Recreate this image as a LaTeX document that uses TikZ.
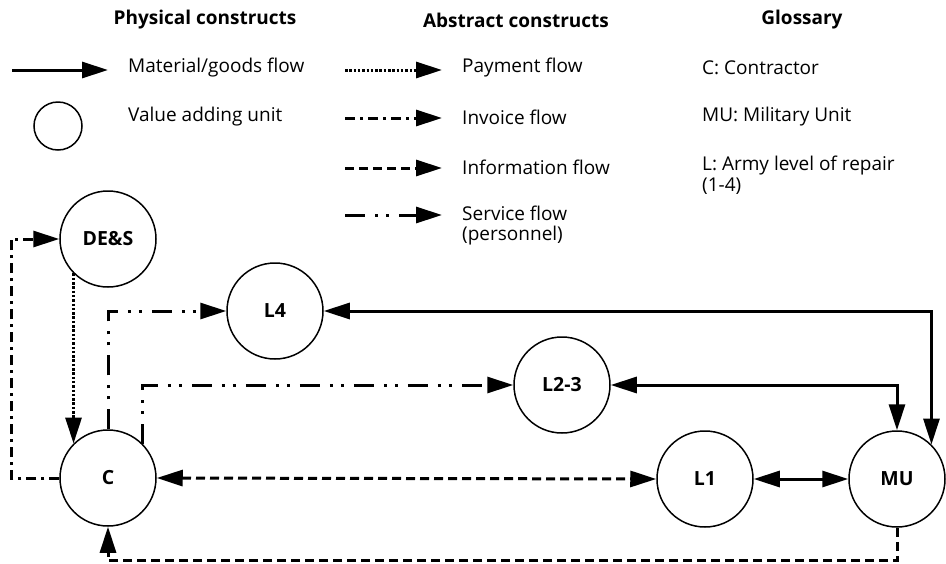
\documentclass[tikz,border=0pt]{standalone}
\usepackage{fontspec}
\setmainfont{Open Sans}
\usetikzlibrary{arrows.meta}
\begin{document}
\begin{tikzpicture}[x=1pt,y=-1pt,
  >={Triangle[length=26pt,width=16pt]},
  unit/.style={circle,draw,line width=1.5pt,minimum size=96pt,inner sep=0pt,font=\fontsize{19.5}{23}\selectfont\bfseries},
  legcirc/.style={circle,draw,line width=1.5pt,minimum size=48pt,inner sep=0pt},
  hdr/.style={font=\fontsize{19}{23}\selectfont\bfseries},
  txt/.style={anchor=west,font=\fontsize{19}{20.5}\selectfont,inner sep=0pt,align=left},
  material/.style={line width=3pt},
  payment/.style={line width=3pt,dash pattern=on 2.5pt off 1.8pt},
  invoice/.style={line width=3pt,dash pattern=on 10pt off 5pt on 3pt off 5pt},
  info/.style={line width=3pt,dash pattern=on 9pt off 5pt},
  service/.style={line width=3pt,dash pattern=on 20pt off 10pt on 3pt off 8pt on 3pt off 10pt},
]
\useasboundingbox (0,0) rectangle (946,563);

% headers
\node[hdr] (h1) at (205,20) {Physical constructs};
\node[hdr] (h2) at (516,20) {Abstract constructs};
\node[hdr] (h3) at (802,20) {Glossary};

% physical legend
\coordinate (m0) at (12,70);
\coordinate (m1) at (108,70);
\draw[material,->] (m0) -- (m1);
\node[txt] (mt) at (128,68) {Material/goods flow};
\node[legcirc] (vc) at (58,126) {};
\node[txt] (vt) at (128,117) {Value adding unit};

% abstract legend
\coordinate (p0) at (345,70);
\coordinate (p1) at (442,70);
\draw[payment,->] (p0) -- (p1);
\node[txt] (pt) at (462,68) {Payment flow};
\coordinate (i0) at (345,118);
\coordinate (i1) at (442,118);
\draw[invoice,->] (i0) -- (i1);
\node[txt] (it) at (462,117) {Invoice flow};
\coordinate (f0) at (345,168);
\coordinate (f1) at (442,168);
\draw[info,->] (f0) -- (f1);
\node[txt] (ft) at (462,167) {Information flow};
\coordinate (s0) at (345,215);
\coordinate (s1) at (442,215);
\draw[service,->] (s0) -- (s1);
\node[txt] (st) at (462,225.5) {Service flow\\(personnel)};

% glossary
\node[txt] (g1) at (702,68) {C: Contractor};
\node[txt] (g2) at (702,117) {MU: Military Unit};
\node[txt] (g3) at (702,175) {L: Army level of repair\\(1-4)};

% units
\node[unit] (DES) at (108,239) {DE\&S};
\node[unit] (L4) at (275,311) {L4};
\node[unit] (L23) at (562,385) {L2-3};
\node[unit] (C) at (108,478) {C};
\node[unit] (L1) at (705,479) {L1};
\node[unit] (MU) at (897,479) {MU};

% connectors
\draw[invoice,->] (C.west) -- ++(-48,0) |- (DES.west);
\draw[payment,->] (DES.225) -- (C.135);
\draw[service,->] (C.north) |- (L4.west);
\draw[service,->] (C.45) |- (L23.west);
\draw[material,<->] (L4.east) -| (MU.45);
\draw[material,<->] (L23.east) -| (MU.north);
\draw[material,<->] (L1.east) -- (MU.west);
\draw[info,<->] (C.east) -- (L1.west);
\draw[info,->] (MU.south) -- ++(0,33) -| (C.south);
\end{tikzpicture}
\end{document}
